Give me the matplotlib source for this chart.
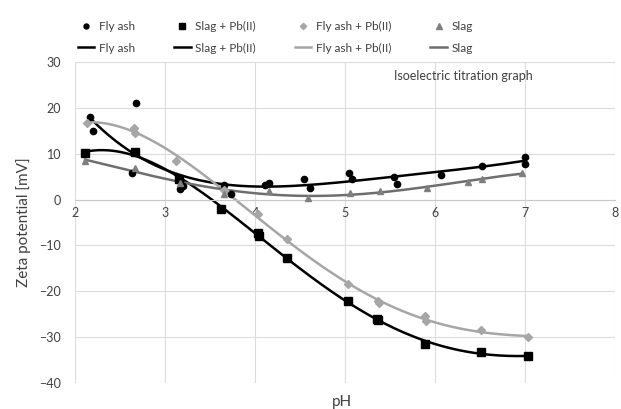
import numpy as np
import matplotlib
matplotlib.use("Agg")
import matplotlib.pyplot as plt
from matplotlib.lines import Line2D

plt.rcParams['font.family'] = ['Lato', 'DejaVu Sans']

fly_ash_ph = [2.16, 2.2, 2.63, 2.68, 3.17, 3.2, 3.65, 3.73, 4.11, 4.15, 4.54, 4.61,
              5.04, 5.08, 5.54, 5.58, 6.07, 6.52, 7.0, 7.0]
fly_ash_zeta = [18.0, 15.0, 5.8, 21.0, 2.4, 3.0, 3.2, 1.3, 3.1, 3.7, 4.4, 2.6,
                5.9, 4.6, 5.0, 3.5, 5.4, 7.4, 9.4, 7.8]

slag_pb_ph = [2.11, 2.66, 3.15, 3.62, 4.03, 4.04, 4.35, 5.03, 5.36, 5.37, 5.89, 6.51, 7.04]
slag_pb_zeta = [10.2, 10.4, 4.4, -2.0, -7.3, -8.0, -12.8, -22.2, -26.0, -26.3, -31.5, -33.3, -34.2]

fly_pb_ph = [2.13, 2.65, 2.66, 3.12, 3.65, 4.03, 4.36, 5.03, 5.37, 5.38, 5.89, 5.9, 6.51, 7.04]
fly_pb_zeta = [16.8, 15.7, 14.6, 8.4, 2.2, -3.2, -8.6, -18.5, -22.2, -22.6, -25.5, -26.5, -28.5, -30.0]

slag_ph = [2.11, 2.66, 3.17, 3.65, 4.15, 4.59, 5.06, 5.39, 5.91, 6.37, 6.52, 6.97]
slag_zeta = [8.4, 7.0, 3.6, 1.2, 1.9, 0.4, 1.4, 1.9, 2.5, 3.9, 4.5, 5.8]

series = [
    ("Fly ash", fly_ash_ph, fly_ash_zeta, "o", "black", 4.5, "black", 1.8),
    ("Slag + Pb(II)", slag_pb_ph, slag_pb_zeta, "s", "black", 5.5, "black", 1.8),
    ("Fly ash + Pb(II)", fly_pb_ph, fly_pb_zeta, "D", "#a6a6a6", 4.0, "#a6a6a6", 1.8),
    ("Slag", slag_ph, slag_zeta, "^", "#7f7f7f", 5.0, "#6e6e6e", 1.8),
]

fig = plt.figure(figsize=(6.21, 4.09), dpi=100)
ax = fig.add_axes([0.121, 0.064, 0.869, 0.784])

handles = []
for name, xs, ys, mk, mc, ms, lc, lw in series:
    xs = np.array(xs)
    ys = np.array(ys)
    # polynomial trendline
    coef = np.polyfit(xs, ys, 4)
    xx = np.linspace(xs.min(), xs.max(), 200)
    ax.plot(xx, np.polyval(coef, xx), color=lc, lw=lw, zorder=2)
    ax.plot(xs, ys, ls="none", marker=mk, color=mc, ms=ms, zorder=3)
    handles.append(Line2D([], [], ls="none", marker=mk, color=mc, ms=ms * 0.8, label=name))
    handles.append(Line2D([], [], color=lc, lw=lw, label=name))

ax.set_xlim(2, 8)
ax.set_ylim(-40, 30)
ax.set_xticks(range(2, 9))
ax.set_yticks(range(-40, 31, 10))
ax.grid(True, color="#dcdcdc", lw=0.8)
ax.set_axisbelow(True)
for s in ["top", "right", "left"]:
    ax.spines[s].set_visible(False)
ax.spines["bottom"].set_position(("data", 0))
ax.spines["bottom"].set_color("#c8c8c8")
ax.tick_params(length=0, labelsize=9, colors="#404040")
ax.tick_params(axis="x", pad=5)
ax.tick_params(axis="y", pad=10)

ax.text(6.32, 27, "Isoelectric titration graph", ha="center", va="center",
        fontsize=9, color="#404040")

ax.set_ylabel("Zeta potential [mV]", fontsize=11, color="#404040", labelpad=6)
fig.text(0.55, 0.0, "pH", ha="center", va="bottom", fontsize=11, color="#404040")

fig.legend(handles=handles, ncol=4, loc="upper left", bbox_to_anchor=(0.108, 0.975),
           frameon=False, fontsize=8.5, columnspacing=3.3, handlelength=1.4,
           handletextpad=0.4, labelspacing=0.9, labelcolor="#404040")

fig.savefig("out.png", dpi=100)
